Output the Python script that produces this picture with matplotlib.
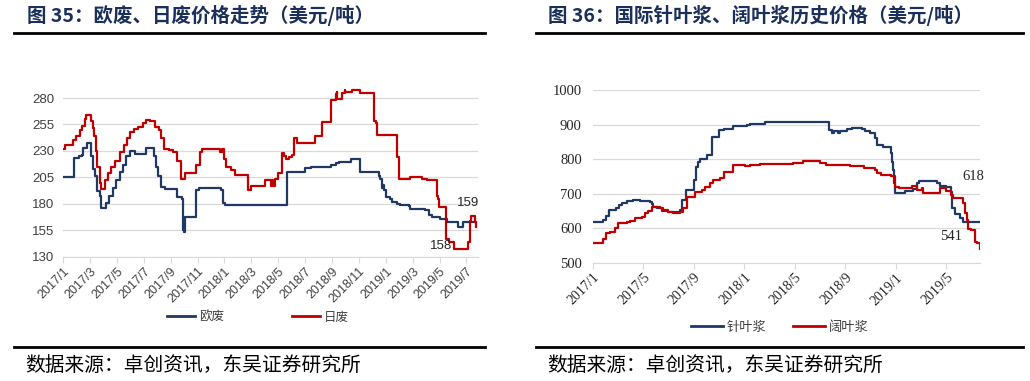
import numpy as np
import matplotlib
matplotlib.use("Agg")
import matplotlib.pyplot as plt
from matplotlib.lines import Line2D

plt.rcParams['font.family'] = ['Noto Sans CJK SC', 'DejaVu Sans']

# ---- left chart: 欧废 / 日废 (months since 2017/1, USD/t) ----
eu_m = [0, 0.8, 1.15, 1.4, 1.5, 1.75, 2.05, 2.25, 2.4, 2.5,
        2.75, 2.85, 3.2, 3.45, 3.7, 3.95, 4.2, 4.45, 4.7, 4.95,
        5.35, 6.15, 6.75, 6.9, 7.05, 7.3, 7.6, 8.5, 8.86, 8.91,
        9.0, 9.1, 9.9, 10.1, 11.75, 11.9, 12.05, 16.62, 18.0, 18.42,
        19.9, 20.27, 20.52, 21.38, 22.05, 23.48, 23.6, 23.73, 23.8, 23.9,
        23.98, 24.35, 24.47, 24.84, 25.09, 25.7, 25.83, 26.94, 27.2, 27.44,
        28.05, 28.54, 29.4, 29.78, 30.7]
eu_v = [205, 223, 225, 226, 233, 238, 225, 213, 206, 192,
        188, 176, 181, 188, 195, 203, 210, 217, 225, 230,
        227, 233, 225, 215, 206, 196, 194, 187, 185, 155,
        154, 168, 193, 195, 193, 181, 179, 210, 214, 215,
        217, 219, 220, 222, 210, 206, 204, 195, 198, 193,
        187, 185, 182, 180, 179, 178, 175, 174, 170, 168,
        166, 163, 158, 163, 163]

jp_m = [0, 0.15, 0.75, 1.0, 1.25, 1.4, 1.6, 1.7, 2.05, 2.2,
        2.3, 2.45, 2.55, 2.75, 2.85, 3.1, 3.35, 3.6, 3.85, 4.2,
        4.55, 4.75, 4.95, 5.25, 5.6, 5.95, 6.2, 6.5, 6.85, 7.1,
        7.3, 7.5, 7.9, 8.15, 8.5, 8.8, 9.05, 9.9, 10.15, 10.35,
        11.7, 11.8, 11.95, 12.15, 12.5, 12.8, 13.75, 13.95, 14.99, 15.45,
        15.55, 15.65, 15.75, 15.95, 16.27, 16.44, 16.57, 16.8, 17.05, 17.2,
        17.4, 18.74, 19.24, 19.9, 20.27, 20.35, 20.4, 20.77, 20.95, 21.0,
        21.5, 22.12, 23.12, 23.25, 23.36, 24.84, 24.96, 25.83, 26.7, 27.06,
        27.8, 27.88, 27.93, 28.5, 28.67, 29.04, 30.15, 30.27, 30.35, 30.6,
        30.7]
jp_v = [232, 236, 240, 244, 250, 254, 260, 264, 258, 252,
        244, 230, 215, 200, 194, 203, 209, 215, 221, 229,
        236, 242, 248, 251, 253, 256, 259, 258, 253, 250,
        242, 232, 231, 229, 221, 204, 209, 217, 229, 232,
        229, 232, 222, 215, 212, 207, 193, 197, 203, 197,
        203, 197, 204, 209, 228, 225, 222, 224, 226, 242,
        238, 244, 257, 278, 284, 286, 279, 285, 288, 286,
        288, 285, 258, 256, 245, 224, 204, 205, 204, 203,
        188, 185, 177, 147, 144, 138, 144, 164, 169, 163,
        158]

left_ticks = list(range(0, 31, 2))
left_labels = ['2017/1', '2017/3', '2017/5', '2017/7', '2017/9', '2017/11',
               '2018/1', '2018/3', '2018/5', '2018/7', '2018/9', '2018/11',
               '2019/1', '2019/3', '2019/5', '2019/7']

# ---- right chart: 针叶浆 / 阔叶浆 ----
sw_m = [0, 0.77, 1.03, 1.3, 1.82, 2.09, 2.27, 2.67, 3.2, 3.72,
        4.5, 4.65, 4.78, 5.04, 5.44, 5.97, 6.5, 6.9, 7.03, 7.34,
        7.95, 8.03, 8.16, 8.35, 8.48, 9.06, 9.4, 10.0, 10.38, 11.12,
        12.18, 12.44, 13.63, 18.65, 18.73, 18.91, 19.1, 19.44, 19.57, 20.1,
        20.5, 21.29, 21.55, 21.95, 22.35, 22.48, 23.0, 23.4, 23.59, 23.72,
        23.8, 23.88, 23.93, 24.33, 24.72, 25.38, 25.65, 25.86, 26.57, 27.23,
        27.5, 28.0, 28.37, 28.45, 28.68, 29.08, 29.35, 30.67]
sw_v = [619, 625, 635, 652, 657, 667, 674, 679, 681, 680,
        677, 670, 662, 657, 650, 646, 648, 652, 681, 710,
        710, 739, 778, 792, 799, 812, 863, 884, 887, 896,
        898, 901, 906, 906, 884, 876, 882, 875, 882, 886,
        889, 887, 882, 876, 860, 841, 836, 834, 817, 792,
        768, 730, 701, 703, 708, 712, 730, 736, 736, 732,
        722, 720, 706, 657, 641, 628, 619, 618]

hw_m = [0, 0.82, 1.03, 1.35, 1.74, 2.0, 2.35, 2.67, 2.93, 3.33,
        3.86, 4.12, 4.38, 4.65, 5.04, 5.31, 5.57, 5.97, 6.37, 6.9,
        7.16, 7.42, 8.08, 8.61, 8.87, 9.27, 9.54, 10.06, 10.38, 11.12,
        12.04, 12.44, 13.23, 15.87, 16.67, 17.99, 18.5, 20.35, 21.47, 22.35,
        22.53, 22.8, 23.59, 23.93, 24.27, 25.25, 25.65, 26.04, 26.12, 27.5,
        28.0, 28.4, 28.55, 29.35, 29.5, 29.68, 29.74, 30.0, 30.27, 30.4,
        30.67]
hw_v = [557, 570, 585, 590, 600, 614, 616, 619, 622, 628,
        633, 643, 651, 662, 662, 657, 652, 648, 645, 648,
        657, 689, 706, 710, 720, 730, 739, 744, 763, 783,
        780, 783, 785, 788, 795, 788, 783, 780, 773, 768,
        759, 754, 751, 720, 715, 722, 710, 715, 701, 715,
        708, 696, 686, 672, 643, 624, 599, 594, 561, 556,
        541]

right_ticks = list(range(0, 29, 4))
right_labels = ['2017/1', '2017/5', '2017/9', '2018/1', '2018/5', '2018/9',
                '2019/1', '2019/5']

navy = '#1F3864'
red = '#C00000'
grid_c = '#D9D9D9'
title_c = '#1B2F5B'

fig = plt.figure(figsize=(10.3, 3.81), dpi=100)

# ---------- left axes ----------
ax1 = fig.add_axes([0.0612, 0.3255, 0.4029, 0.4451])
ax1.plot(eu_m, eu_v, drawstyle='steps-post', color=navy, lw=1.6)
ax1.plot(jp_m, jp_v, drawstyle='steps-post', color=red, lw=1.6)
ax1.set_xlim(0, 30.86)
ax1.set_ylim(130, 290)
ax1.set_yticks(range(130, 281, 25))
ax1.set_xticks(left_ticks)
ax1.set_xticklabels(left_labels, rotation=45, ha='right', rotation_mode='anchor',
                    family='Liberation Sans', fontsize=9, color='#404040')
for lb in ax1.get_yticklabels():
    lb.set_family('Liberation Sans')
    lb.set_fontsize(9.5)
    lb.set_color('#404040')
ax1.grid(axis='y', color=grid_c, lw=0.9)
ax1.set_axisbelow(True)
for s in ['top', 'right', 'left']:
    ax1.spines[s].set_visible(False)
ax1.spines['bottom'].set_color(grid_c)
ax1.tick_params(axis='y', length=0, pad=6)
ax1.tick_params(axis='x', length=4, color=grid_c, pad=2)
ax1.text(29.3, 181, '159', family='Liberation Sans', fontsize=9.5, color='#262626', va='center')
ax1.text(27.3, 140, '158', family='Liberation Sans', fontsize=9.5, color='#262626', va='center')

# ---------- right axes ----------
ax2 = fig.add_axes([0.5757, 0.3105, 0.3757, 0.4533])
ax2.plot(sw_m, sw_v, drawstyle='steps-post', color=navy, lw=1.6)
ax2.plot(hw_m, hw_v, drawstyle='steps-post', color=red, lw=1.6)
ax2.set_xlim(0, 30.67)
ax2.set_ylim(500, 1000)
ax2.set_yticks(range(500, 1001, 100))
ax2.set_xticks(right_ticks)
ax2.set_xticklabels(right_labels, rotation=45, ha='right', rotation_mode='anchor',
                    family='Liberation Serif', fontsize=10, color='#262626')
for lb in ax2.get_yticklabels():
    lb.set_family('Liberation Serif')
    lb.set_fontsize(10.5)
    lb.set_color('#262626')
ax2.grid(axis='y', color=grid_c, lw=0.9)
ax2.set_axisbelow(True)
for s in ['top', 'right', 'left']:
    ax2.spines[s].set_visible(False)
ax2.spines['bottom'].set_color(grid_c)
ax2.tick_params(axis='y', length=0, pad=8)
ax2.tick_params(axis='x', length=4, color=grid_c, pad=2)
ax2.text(29.3, 751, '618', family='Liberation Serif', fontsize=10.5, color='#262626', va='center')
ax2.text(27.5, 577, '541', family='Liberation Serif', fontsize=10.5, color='#262626', va='center')

# ---------- titles, rules, legends, sources ----------
fig.text(27 / 1030, 1 - 15 / 381, '图 35：欧废、日废价格走势（美元/吨）', fontsize=14,
         fontweight='bold', color=title_c, va='center')
fig.text(548 / 1030, 1 - 15 / 381, '图 36：国际针叶浆、阔叶浆历史价格（美元/吨）', fontsize=14,
         fontweight='bold', color=title_c, va='center')

for x0, x1 in [(14, 485), (536, 1023)]:
    for yy in (33, 347):
        fig.add_artist(Line2D([x0 / 1030, x1 / 1030], [1 - yy / 381, 1 - yy / 381],
                              color='black', lw=2))

fig.text(25 / 1030, 1 - 365 / 381, '数据来源：卓创资讯，东吴证券研究所', fontsize=14.2,
         color='black', va='center')
fig.text(547 / 1030, 1 - 365 / 381, '数据来源：卓创资讯，东吴证券研究所', fontsize=14.2,
         color='black', va='center')

h1 = [Line2D([], [], color=navy, lw=2), Line2D([], [], color=red, lw=2)]
fig.legend(h1, ['欧废', '日废'], loc='center', bbox_to_anchor=(258 / 1030, 1 - 317 / 381),
           ncol=2, frameon=False, fontsize=9, handlelength=2.2, handletextpad=0.3,
           columnspacing=5.5, labelcolor='#404040')
fig.legend(h1, ['针叶浆', '阔叶浆'], loc='center', bbox_to_anchor=(780 / 1030, 1 - 327 / 381),
           ncol=2, frameon=False, fontsize=9.5, handlelength=2.4, handletextpad=0.3,
           columnspacing=2.0, labelcolor='#404040')

fig.savefig('out.png', dpi=100)
